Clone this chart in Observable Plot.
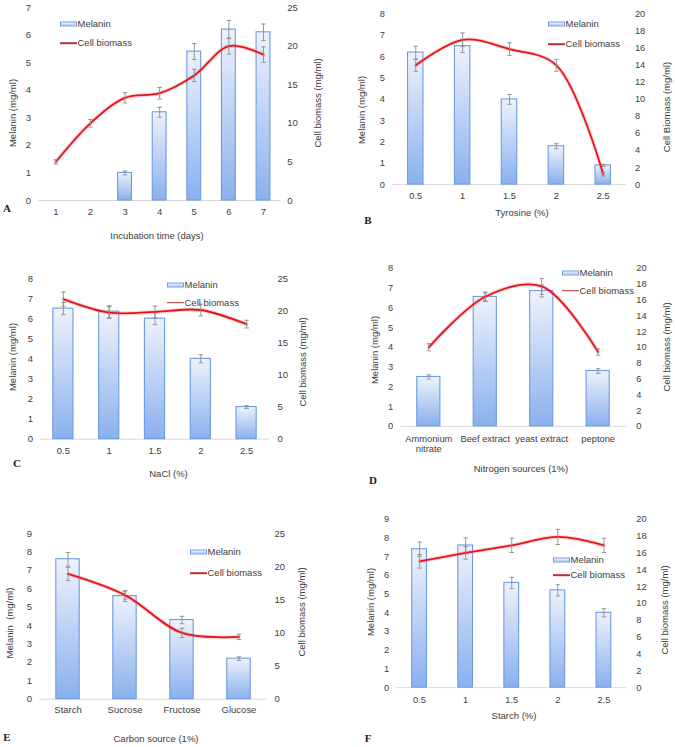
<!DOCTYPE html>
<html><head><meta charset="utf-8">
<script src="https://cdn.jsdelivr.net/npm/d3@7"></script>
<script src="https://cdn.jsdelivr.net/npm/@observablehq/plot@0.6"></script>
<style>
body{margin:0;background:#fff;}
#page{position:relative;width:675px;height:747px;overflow:hidden;font-family:"Liberation Sans",Arial,sans-serif;color:#3c3c3c;background:#fff;}
.layer{position:absolute;}
.t{position:absolute;font-size:9.5px;white-space:nowrap;line-height:1;}
.c{transform:translate(-50%,-50%);}
.r{transform:translate(-50%,-50%) rotate(-90deg);}
.l{transform:translate(0,-50%);}
.letter{position:absolute;font-family:"Liberation Serif","Times New Roman",serif;font-weight:bold;font-size:11px;line-height:1;transform:translate(-50%,-50%);color:#222;}
.swb{position:absolute;height:3px;background:linear-gradient(#eef3fc,#a9c6f2);border:1px solid #6c9be0;transform:translate(0,-50%);}
.swl{position:absolute;height:1.6px;background:#b8312f;transform:translate(0,-50%);}
</style></head><body>
<svg width="0" height="0" style="position:absolute"><defs>
<linearGradient id="barGrad" x1="0" y1="0" x2="0" y2="1"><stop offset="0" stop-color="#eef3fc"/><stop offset="1" stop-color="#8ab0ee"/></linearGradient>
</defs></svg>
<div id="page"></div>
<script>
// ---------- DATA ----------
const incubationDays = ["1","2","3","4","5","6","7"];
const melaninA    = [0, 0, 1.0, 3.2, 5.4, 6.2, 6.1];
const melaninErrA = [0, 0, 0.07, 0.18, 0.29, 0.33, 0.3];
const biomassA    = [5, 10, 13.3, 13.9, 16.2, 20, 18.9];
const biomassErrA = [0.28, 0.5, 0.67, 0.75, 0.8, 1.05, 1.0];

const tyrosineLevels = ["0.5","1","1.5","2","2.5"];
const melaninB    = [6.2, 6.5, 4.0, 1.8, 0.9];
const melaninErrB = [0.3, 0.3, 0.23, 0.12, 0.05];
const biomassB    = [14, 17, 15.9, 14, 1.2];
const biomassErrB = [0.7, 0.8, 0.76, 0.7, 0.2];

const naclLevels = ["0.5","1","1.5","2","2.5"];
const melaninC    = [6.5, 6.35, 6.0, 4.0, 1.6];
const melaninErrC = [0.3, 0.3, 0.3, 0.2, 0.07];
const biomassC    = [21.8, 19.7, 19.8, 20.1, 17.9];
const biomassErrC = [1.1, 0.9, 0.9, 0.9, 0.6];

const nitrogenSources = ["Ammonium nitrate","Beef extract","yeast extract","peptone"];
const melaninD    = [2.5, 6.55, 6.85, 2.8];
const melaninErrD = [0.1, 0.2, 0.3, 0.12];
const biomassD    = [10, 16.4, 17.7, 9.4];
const biomassErrD = [0.45, 0.6, 1.0, 0.4];

const carbonSources = ["Starch","Sucrose","Fructose","Glucose"];
const melaninE    = [7.6, 5.6, 4.3, 2.2];
const melaninErrE = [0.37, 0.29, 0.2, 0.1];
const biomassE    = [18.9, 15.7, 10.0, 9.4];
const biomassErrE = [1.0, 0.6, 0.7, 0.4];

const starchLevels = ["0.5","1","1.5","2","2.5"];
const melaninF    = [7.4, 7.6, 5.6, 5.2, 4.0];
const melaninErrF = [0.38, 0.4, 0.3, 0.3, 0.22];
const biomassF    = [15, 16, 16.9, 17.9, 16.9];
const biomassErrF = [0.8, 0.75, 0.85, 0.9, 0.85];

const ticks0to7 = [0,1,2,3,4,5,6,7];
const ticks0to8 = [0,1,2,3,4,5,6,7,8];
const ticks0to9 = [0,1,2,3,4,5,6,7,8,9];
const ticks0to25by5 = [0,5,10,15,20,25];
const ticks0to20by2 = [0,2,4,6,8,10,12,14,16,18,20];

// ---------- LAYOUT ----------
const panels = [
  {letter:"A", cats:incubationDays, mel:melaninA, melErr:melaninErrA, bio:biomassA, bioErr:biomassErrA,
   lt:ticks0to7, rt:ticks0to25by5, frame:[38,280.3,7.3,200.3], frac:0.4, rpad:6.5, xpad:7,
   leftTitle:"Melanin (mg/ml)", rightTitle:"Cell biomass (mg/ml)", xTitle:"Incubation time (days)",
   lT:[13,113], rT:[318,103], xT:[157,236], L:[7,208], leg:[60,24,43]},
  {letter:"B", cats:tyrosineLevels, mel:melaninB, melErr:melaninErrB, bio:biomassB, bioErr:biomassErrB,
   lt:ticks0to8, rt:ticks0to20by2, frame:[393,633,14,188.5], frac:0.33, rpad:8.5, xpad:7,
   leftTitle:"Melanin (mg/ml)", rightTitle:"Cell Biomass (mg/ml)", xTitle:"Tyrosine (%)",
   lT:[362,110], rT:[666.5,107], xT:[522,213], L:[368,220], leg:[548,24,44.3]},
  {letter:"C", cats:naclLevels, mel:melaninC, melErr:melaninErrC, bio:biomassC, bioErr:biomassErrC,
   lt:ticks0to8, rt:ticks0to25by5, frame:[40,269,278.3,439], frac:0.44, rpad:8, xpad:7.5,
   leftTitle:"Melanin (mg/ml)", rightTitle:"Cell biomass (mg/ml)", xTitle:"NaCl (%)",
   lT:[13,357], rT:[303,362], xT:[168.5,474], L:[17,463], leg:[167,285,302.7]},
  {letter:"D", cats:nitrogenSources, mel:melaninD, melErr:melaninErrD, bio:biomassD, bioErr:biomassErrD,
   lt:ticks0to8, rt:ticks0to20by2, frame:[401,631,268.3,429.3], frac:0.41, rpad:10, xpad:8.5,
   leftTitle:"Melanin (mg/ml)", rightTitle:"Cell biomass (mg/ml)", xTitle:"Nitrogen sources (1%)",
   lT:[375,350], rT:[667,347], xT:[521,469], L:[373,480], leg:[562,273.3,290.7]},
  {letter:"E", cats:carbonSources, mel:melaninE, melErr:melaninErrE, bio:biomassE, bioErr:biomassErrE,
   lt:ticks0to9, rt:ticks0to25by5, frame:[38.5,266.5,533.3,699], frac:0.41, rpad:7, xpad:6.5,
   leftTitle:"Melanin\u00a0\u00a0(mg/ml)", rightTitle:"Cell biomass (mg/ml)", xTitle:"Carbon source (1%)",
   lT:[10,623], rT:[302,612], xT:[156,739], L:[7,737], leg:[190,551.7,573.3]},
  {letter:"F", cats:starchLevels, mel:melaninF, melErr:melaninErrF, bio:biomassF, bioErr:biomassErrF,
   lt:ticks0to9, rt:ticks0to20by2, frame:[396.5,631.5,519.3,691], frac:0.32, rpad:9.5, xpad:8,
   leftTitle:"Melanin (mg/ml)", rightTitle:"Cell biomass (mg/ml)", xTitle:"Starch (%)",
   lT:[371,602], rT:[665,610], xT:[514,716], L:[368,738], leg:[553,560,575]}
];

const page = document.getElementById("page");
const capSymbol = {draw(ctx, size){ const r = Math.sqrt(size/Math.PI); ctx.moveTo(-r,0); ctx.lineTo(r,0); }};
const errColor = "#8c8c8c";
const tickColor = "#404040";

function addDiv(cls, x, y, text, extra) {
  const d = document.createElement("div");
  d.className = cls;
  d.style.left = x + "px"; d.style.top = y + "px";
  if (text != null) d.textContent = text;
  if (extra) Object.assign(d.style, extra);
  page.appendChild(d);
  return d;
}

function drawPanel(p) {
  const [x0, x1, y0, y1] = p.frame;
  const mL = 50, mR = 50, mT = 12, mB = 40;
  const width = (x1 - x0) + mL + mR, height = (y1 - y0) + mT + mB;
  const pi = 1 - p.frac;
  const xScale = {type:"band", domain:p.cats, paddingInner:pi, paddingOuter:pi/2, round:false, axis:null, label:null};
  const rows = p.cats.map((c,i) => ({c, m:p.mel[i], me:p.melErr[i], b:p.bio[i], be:p.bioErr[i]}));
  const style = {background:"transparent", fontFamily:'"Liberation Sans", Arial, sans-serif', fontSize:"9.5px", color:tickColor, overflow:"visible"};
  const common = {width, height, marginLeft:mL, marginRight:mR, marginTop:mT, marginBottom:mB, style};
  const barRows = rows.filter(d => d.m > 0);
  const melCaps = barRows.filter(d => d.me > 0).flatMap(d => [{c:d.c, v:d.m - d.me}, {c:d.c, v:d.m + d.me}]);
  const bioCaps = rows.flatMap(d => [{c:d.c, v:d.b - d.be}, {c:d.c, v:d.b + d.be}]);
  const fmt = d => d === "Ammonium nitrate" ? "Ammonium\nnitrate" : d;

  const barPlot = Plot.plot({...common,
    x: xScale,
    y: {domain:[0, p.lt[p.lt.length-1]], axis:null, label:null},
    marks: [
      Plot.ruleY([0], {stroke:"#d9d9d9", strokeWidth:1}),
      Plot.barY(barRows, {x:"c", y:"m", fill:"url(#barGrad)", stroke:"#6c9be0", strokeWidth:1.1}),
      Plot.ruleX(barRows.filter(d => d.me > 0), {x:"c", y1:d => d.m - d.me, y2:d => d.m + d.me, stroke:errColor, strokeWidth:0.9}),
      Plot.dot(melCaps, {x:"c", y:"v", symbol:capSymbol, r:2.3, fill:"none", stroke:errColor, strokeWidth:0.9}),
      Plot.axisX({tickSize:0, tickPadding:p.xpad, tickFormat:fmt, lineHeight:1.1, label:null, fill:tickColor}),
      Plot.axisY(p.lt, {anchor:"left", tickSize:0, tickPadding:7.5, label:null, fill:tickColor})
    ]
  });
  const linePlot = Plot.plot({...common,
    x: xScale,
    y: {domain:[0, p.rt[p.rt.length-1]], axis:null, label:null},
    marks: [
      Plot.line(rows, {x:"c", y:"b", curve:"catmull-rom", stroke:"#f07a7a", strokeWidth:4, strokeOpacity:0.35}),
      Plot.line(rows, {x:"c", y:"b", curve:"catmull-rom", stroke:"#e2141c", strokeWidth:1.8}),
      Plot.ruleX(rows, {x:"c", y1:d => d.b - d.be, y2:d => d.b + d.be, stroke:errColor, strokeWidth:0.9}),
      Plot.dot(bioCaps, {x:"c", y:"v", symbol:capSymbol, r:2.3, fill:"none", stroke:errColor, strokeWidth:0.9}),
      Plot.axisY(p.rt, {anchor:"right", tickSize:0, tickPadding:p.rpad, label:null, fill:tickColor})
    ]
  });
  for (const svg of [barPlot, linePlot]) {
    const wrap = document.createElement("div");
    wrap.className = "layer";
    wrap.style.left = (x0 - mL) + "px";
    wrap.style.top = (y0 - mT) + "px";
    wrap.appendChild(svg);
    page.appendChild(wrap);
  }
  // titles
  addDiv("t r", p.lT[0], p.lT[1], p.leftTitle);
  addDiv("t r", p.rT[0], p.rT[1], p.rightTitle);
  addDiv("t c", p.xT[0], p.xT[1], p.xTitle);
  addDiv("letter", p.L[0], p.L[1], p.letter);
  // legend
  const [lx, ly1, ly2] = p.leg;
  addDiv("swb", lx, ly1, null, {width:"15px"});
  addDiv("t l", lx + 17.5, ly1, "Melanin");
  addDiv("swl", lx, ly2, null, {width:"17px"});
  addDiv("t l", lx + 17.5, ly2, "Cell biomass");
}

panels.forEach(drawPanel);
</script>
</body></html>
